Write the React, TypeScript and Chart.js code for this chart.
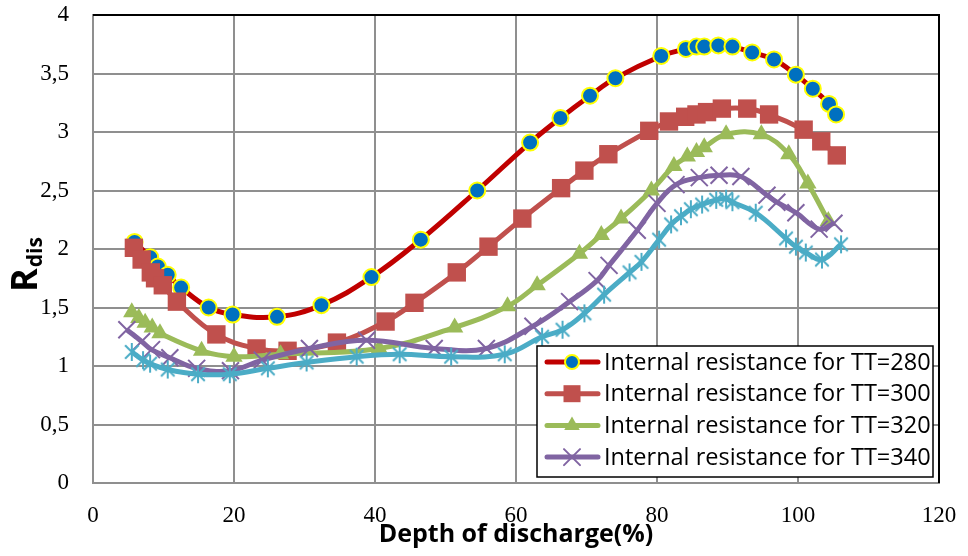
import React, { useEffect, useRef } from "react";
import { Chart, registerables } from "chart.js";

Chart.register(...registerables);

// Depth of discharge (%) and internal resistance R_dis for each TT curve
const dod280 = [5.9, 8.1, 9.2, 10.6, 12.5, 16.4, 19.8, 26.1, 32.4, 39.5, 46.5, 54.5, 62.0, 66.3, 70.5, 74.1, 80.6, 84.1, 85.6, 86.7, 88.7, 90.7, 93.5, 96.6, 99.7, 102.1, 104.4, 105.4];
const rdis280 = [2.06, 1.93, 1.85, 1.78, 1.67, 1.5, 1.44, 1.42, 1.52, 1.76, 2.08, 2.5, 2.91, 3.12, 3.31, 3.46, 3.65, 3.71, 3.73, 3.73, 3.74, 3.73, 3.68, 3.62, 3.49, 3.37, 3.24, 3.15];

const dod300 = [5.8, 6.9, 8.2, 8.8, 9.9, 11.9, 17.5, 23.2, 27.6, 34.6, 41.5, 45.6, 51.6, 56.1, 60.9, 66.4, 69.7, 73.1, 78.9, 81.7, 84.0, 85.6, 87.1, 89.2, 92.8, 95.9, 100.8, 103.3, 105.5];
const rdis300 = [2.01, 1.91, 1.8, 1.75, 1.69, 1.55, 1.27, 1.15, 1.13, 1.2, 1.38, 1.54, 1.8, 2.02, 2.26, 2.52, 2.67, 2.81, 3.01, 3.09, 3.13, 3.15, 3.17, 3.2, 3.2, 3.15, 3.02, 2.92, 2.8];

const dod320 = [5.5, 6.5, 7.4, 8.4, 9.5, 15.4, 20.0, 26.6, 40.6, 51.3, 58.8, 63.0, 69.0, 72.1, 74.9, 79.2, 82.4, 84.3, 85.6, 86.7, 89.8, 94.8, 98.7, 101.4, 104.3];
const rdis320 = [1.46, 1.41, 1.37, 1.33, 1.28, 1.13, 1.08, 1.1, 1.15, 1.33, 1.51, 1.69, 1.96, 2.12, 2.26, 2.5, 2.71, 2.79, 2.83, 2.87, 2.98, 2.98, 2.81, 2.56, 2.24];

const dod340 = [4.8, 6.9, 8.3, 10.9, 14.7, 19.5, 24.0, 30.7, 38.8, 48.4, 55.8, 62.4, 67.6, 71.5, 73.2, 77.2, 80.0, 82.7, 86.0, 88.8, 91.9, 95.6, 97.0, 99.7, 103.0, 105.1];
const rdis340 = [1.31, 1.21, 1.14, 1.07, 0.98, 0.96, 1.05, 1.15, 1.22, 1.15, 1.15, 1.34, 1.55, 1.73, 1.86, 2.16, 2.39, 2.55, 2.61, 2.63, 2.62, 2.46, 2.4, 2.31, 2.17, 2.22];

const dod5 = [5.5, 7.1, 8.1, 10.6, 14.9, 19.4, 24.8, 30.3, 37.4, 43.5, 50.8, 58.4, 63.7, 66.6, 69.7, 72.5, 76.1, 77.8, 80.3, 82.0, 83.4, 84.8, 86.4, 88.4, 89.8, 90.7, 94.0, 98.3, 99.7, 101.1, 103.4, 106.1];
const rdis5 = [1.12, 1.05, 1.02, 0.97, 0.93, 0.93, 0.98, 1.03, 1.08, 1.1, 1.08, 1.1, 1.25, 1.31, 1.45, 1.61, 1.8, 1.89, 2.08, 2.21, 2.28, 2.34, 2.38, 2.42, 2.43, 2.4, 2.31, 2.09, 2.02, 1.97, 1.91, 2.04];

const legendLabels = [
  "Internal resistance for TT=280",
  "Internal resistance for TT=300",
  "Internal resistance for TT=320",
  "Internal resistance for TT=340",
];

const xMin = 0;
const xMax = 120;
const xStep = 20;
const yMin = 0;
const yMax = 4;
const yStep = 0.5;

const xTitle = "Depth of discharge(%)";
const yTitleMain = "R";
const yTitleSub = "dis";

const C_RED_LINE = "#C00000";
const C_BLUE = "#0070C0";
const C_YELLOW = "#FFFF00";
const C_SQUARE = "#C0504D";
const C_GREEN = "#9BBB59";
const C_PURPLE = "#8064A2";
const C_CYAN = "#4BACC6";
const GRID = "#8f8f8f";

const toPoints = (xs: number[], ys: number[]) => xs.map((x, i) => ({ x, y: ys[i] }));
const commaNum = (v: number) => String(v).replace(".", ",");

function makeAsterisk(color: string, size: number, lw: number) {
  const c = document.createElement("canvas");
  c.width = size;
  c.height = size;
  const g = c.getContext("2d")!;
  g.strokeStyle = color;
  g.lineWidth = lw;
  g.lineCap = "butt";
  const m = size / 2;
  const r = size / 2 - 1;
  const d = r * 0.75;
  g.beginPath();
  g.moveTo(m, m - r);
  g.lineTo(m, m + r);
  g.moveTo(m - d, m - d);
  g.lineTo(m + d, m + d);
  g.moveTo(m - d, m + d);
  g.lineTo(m + d, m - d);
  g.stroke();
  return c;
}

function drawMarker(ctx: CanvasRenderingContext2D, kind: string, x: number, y: number) {
  ctx.save();
  if (kind === "circle") {
    ctx.beginPath();
    ctx.arc(x, y, 7, 0, Math.PI * 2);
    ctx.fillStyle = C_BLUE;
    ctx.fill();
    ctx.lineWidth = 2;
    ctx.strokeStyle = C_YELLOW;
    ctx.stroke();
  } else if (kind === "rect") {
    ctx.fillStyle = C_SQUARE;
    ctx.fillRect(x - 8.5, y - 8.5, 17, 17);
  } else if (kind === "triangle") {
    const r = 9;
    ctx.beginPath();
    ctx.moveTo(x, y - r);
    ctx.lineTo(x + r * 0.866, y + r * 0.5);
    ctx.lineTo(x - r * 0.866, y + r * 0.5);
    ctx.closePath();
    ctx.fillStyle = C_GREEN;
    ctx.fill();
  } else if (kind === "crossRot") {
    const d = 8;
    ctx.beginPath();
    ctx.moveTo(x - d, y - d);
    ctx.lineTo(x + d, y + d);
    ctx.moveTo(x - d, y + d);
    ctx.lineTo(x + d, y - d);
    ctx.lineWidth = 2;
    ctx.strokeStyle = C_PURPLE;
    ctx.stroke();
  }
  ctx.restore();
}

// Boxed legend in the lower right corner of the plot area
const boxLegend = {
  id: "boxLegend",
  afterDraw(chart: any) {
    const { ctx, chartArea } = chart;
    const w = 396;
    const h = 131;
    const x0 = chartArea.right - 6 - w;
    const y0 = chartArea.bottom - 6 - h;
    ctx.save();
    ctx.fillStyle = "#ffffff";
    ctx.fillRect(x0, y0, w, h);
    ctx.lineWidth = 1.5;
    ctx.strokeStyle = "#000000";
    ctx.strokeRect(x0, y0, w, h);
    const kinds = ["circle", "rect", "triangle", "crossRot"];
    const lineColors = [C_RED_LINE, C_SQUARE, C_GREEN, C_PURPLE];
    legendLabels.forEach((label, i) => {
      const cy = y0 + 16 + i * 31.7;
      ctx.beginPath();
      ctx.moveTo(x0 + 10, cy);
      ctx.lineTo(x0 + 61, cy);
      ctx.lineWidth = 5;
      ctx.lineCap = "round";
      ctx.strokeStyle = lineColors[i];
      ctx.stroke();
      drawMarker(ctx, kinds[i], x0 + 35, cy);
      ctx.fillStyle = "#000000";
      ctx.font = "23.5px 'Open Sans'";
      ctx.textAlign = "left";
      ctx.textBaseline = "middle";
      ctx.fillText(label, x0 + 67, cy + 1);
    });
    ctx.restore();
  },
};

// Dark top/right frame plus the axis titles
const frameAndTitles = {
  id: "frameAndTitles",
  beforeDatasetsDraw(chart: any) {
    const { ctx, chartArea } = chart;
    ctx.save();
    ctx.strokeStyle = "#000000";
    ctx.lineWidth = 2;
    ctx.beginPath();
    ctx.moveTo(chartArea.left, chartArea.top);
    ctx.lineTo(chartArea.right, chartArea.top);
    ctx.lineTo(chartArea.right, chartArea.bottom);
    ctx.stroke();
    ctx.restore();
  },
  afterDraw(chart: any) {
    const { ctx, chartArea } = chart;
    ctx.save();
    ctx.fillStyle = "#000000";
    ctx.font = "bold 25px 'Open Sans'";
    ctx.textAlign = "center";
    ctx.textBaseline = "alphabetic";
    ctx.fillText(xTitle, (chartArea.left + chartArea.right) / 2, 542);

    ctx.translate(37, 292);
    ctx.rotate(-Math.PI / 2);
    ctx.textAlign = "left";
    ctx.font = "bold 36px 'Open Sans'";
    ctx.fillText(yTitleMain, 0, 0);
    const rw = ctx.measureText(yTitleMain).width;
    ctx.font = "bold 21px 'Open Sans'";
    ctx.fillText(yTitleSub, rw + 1, 5);
    ctx.restore();
  },
};

export default function App() {
  const canvasRef = useRef<HTMLCanvasElement | null>(null);

  useEffect(() => {
    document.body.style.margin = "0";
    const canvas = canvasRef.current;
    if (!canvas) return;
    const asterisk = makeAsterisk(C_CYAN, 20, 2);

    const chart = new Chart(canvas, {
      type: "line",
      data: {
        datasets: [
          {
            label: legendLabels[0],
            data: toPoints(dod280, rdis280),
            borderColor: C_RED_LINE,
            borderWidth: 5,
            tension: 0.4,
            pointStyle: "circle",
            pointRadius: 8,
            pointBackgroundColor: C_BLUE,
            pointBorderColor: C_YELLOW,
            pointBorderWidth: 2,
            order: 5,
          },
          {
            label: legendLabels[1],
            data: toPoints(dod300, rdis300),
            borderColor: C_SQUARE,
            borderWidth: 5,
            tension: 0.4,
            pointStyle: "rect",
            pointRadius: 13,
            pointBackgroundColor: C_SQUARE,
            pointBorderColor: C_SQUARE,
            pointBorderWidth: 0,
            order: 4,
          },
          {
            label: legendLabels[2],
            data: toPoints(dod320, rdis320),
            borderColor: C_GREEN,
            borderWidth: 5,
            tension: 0.4,
            pointStyle: "triangle",
            pointRadius: 10,
            pointBackgroundColor: C_GREEN,
            pointBorderColor: C_GREEN,
            pointBorderWidth: 0,
            order: 3,
          },
          {
            label: legendLabels[3],
            data: toPoints(dod340, rdis340),
            borderColor: C_PURPLE,
            borderWidth: 5,
            tension: 0.4,
            pointStyle: "crossRot",
            pointRadius: 12,
            pointBackgroundColor: C_PURPLE,
            pointBorderColor: C_PURPLE,
            pointBorderWidth: 2,
            order: 2,
          },
          {
            label: "",
            data: toPoints(dod5, rdis5),
            borderColor: C_CYAN,
            borderWidth: 5,
            tension: 0.4,
            pointStyle: asterisk as any,
            pointRadius: 10,
            pointBackgroundColor: C_CYAN,
            pointBorderColor: C_CYAN,
            order: 1,
          },
        ],
      },
      options: {
        responsive: false,
        animation: false,
        layout: { padding: { top: 15, right: 29, bottom: 0, left: 0 } },
        plugins: {
          legend: { display: false },
          tooltip: { enabled: false },
        },
        scales: {
          x: {
            type: "linear",
            min: xMin,
            max: xMax,
            ticks: {
              stepSize: xStep,
              padding: 19,
              color: "#000000",
              font: { family: "'Liberation Serif'", size: 23 },
              callback: (v: any) => commaNum(Number(v)),
            },
            grid: { color: GRID, lineWidth: 2, drawTicks: false },
            border: { color: GRID, width: 2 },
            afterFit: (s: any) => {
              s.height = 73;
              s.paddingLeft = 0;
              s.paddingRight = 0;
            },
          },
          y: {
            type: "linear",
            min: yMin,
            max: yMax,
            ticks: {
              stepSize: yStep,
              padding: 24,
              color: "#000000",
              font: { family: "'Liberation Serif'", size: 23 },
              callback: (v: any) => commaNum(Number(v)),
            },
            grid: { color: GRID, lineWidth: 2, drawTicks: false },
            border: { color: GRID, width: 2 },
            afterFit: (s: any) => {
              s.width = 93;
              s.paddingTop = 0;
              s.paddingBottom = 0;
            },
          },
        },
      },
      plugins: [frameAndTitles, boxLegend],
    });

    return () => {
      chart.destroy();
    };
  }, []);

  return (
    <div style={{ width: 968, height: 556, background: "#ffffff" }}>
      <canvas ref={canvasRef} width={968} height={556} />
    </div>
  );
}
